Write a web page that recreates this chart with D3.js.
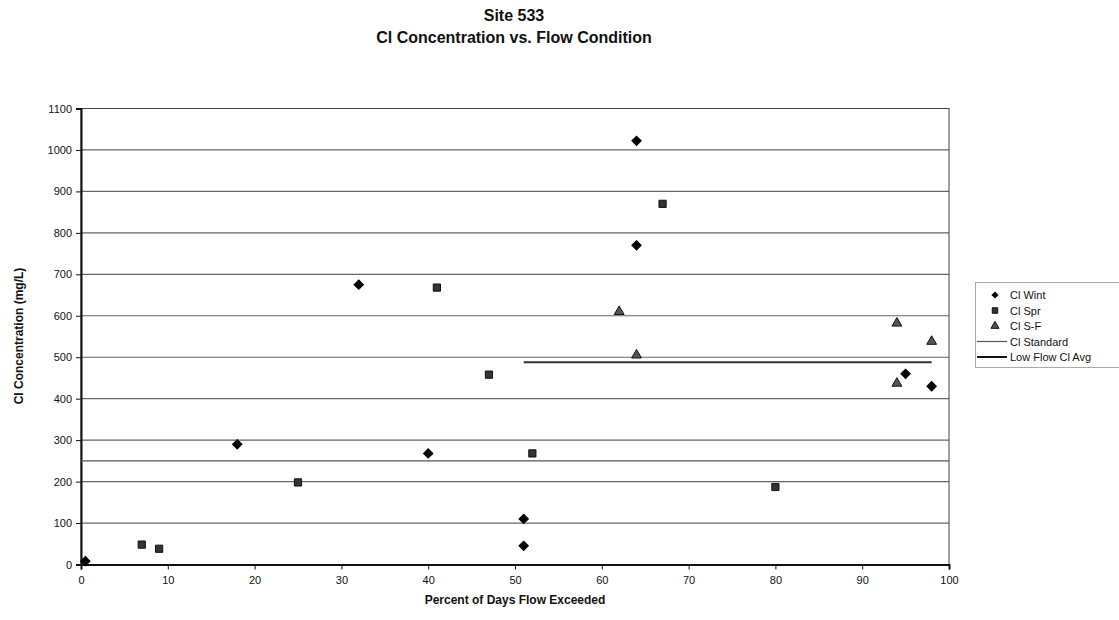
<!DOCTYPE html>
<html>
<head>
<meta charset="utf-8">
<script src="https://cdn.jsdelivr.net/npm/d3@7"></script>
<style>
  body { margin: 0; background: #fff; }
  text { font-family: "Liberation Sans", Arial, sans-serif; fill: #111; }
</style>
</head>
<body>
<svg id="chart" width="1119" height="620"></svg>
<script>
// values
const wintX = [0.5, 18, 32, 40, 51, 51, 64, 64, 95, 98]
const wintY = [8, 290, 675, 268, 110, 45, 1022, 770, 460, 430]
const sprX = [7, 9, 25, 41, 47, 52, 67, 80]
const sprY = [48, 38, 198, 668, 458, 268, 870, 187]
const sfX = [62, 64, 94, 94, 98]
const sfY = [610, 505, 582, 437, 538]
const standardX = [0, 100]
const standardY = [250, 250]
const lowFlowX = [51, 98]
const lowFlowY = [488, 488]
const xTicks = [0, 10, 20, 30, 40, 50, 60, 70, 80, 90, 100]
const yTicks = [0, 100, 200, 300, 400, 500, 600, 700, 800, 900, 1000, 1100]
const legendNames = ['Cl Wint', 'Cl Spr', 'Cl S-F', 'Cl Standard', 'Low Flow Cl Avg']

const svg = d3.select('#chart')
const margin = { left: 81, right: 949, top: 108.5, bottom: 564.5 }

const x = d3.scaleLinear().domain([0, 100]).range([margin.left, margin.right])
const y = d3.scaleLinear().domain([0, 1100]).range([margin.bottom, margin.top])

const zip = (xs, ys) => xs.map((v, i) => ({ x: v, y: ys[i] }))

// titles
svg.append('text').attr('x', 514).attr('y', 21).attr('text-anchor', 'middle')
  .style('font-weight', 'bold').style('font-size', '16px').text('Site 533')
svg.append('text').attr('x', 514).attr('y', 43).attr('text-anchor', 'middle')
  .style('font-weight', 'bold').style('font-size', '16px').text('Cl Concentration vs. Flow Condition')

// gridlines
svg.append('g').selectAll('line').data(yTicks.filter(d => d > 0)).join('line')
  .attr('x1', x(0)).attr('x2', x(100))
  .attr('y1', d => y(d)).attr('y2', d => y(d))
  .attr('stroke', '#666').attr('stroke-width', 1.2)

// plot border
svg.append('rect').attr('x', x(0)).attr('y', y(1100))
  .attr('width', x(100) - x(0)).attr('height', y(0) - y(1100))
  .attr('fill', 'none').attr('stroke', '#444').attr('stroke-width', 1)

// axes
const yAxis = d3.axisLeft(y).tickValues(yTicks).tickFormat(d3.format('d')).tickSize(5).tickPadding(4)
const xAxis = d3.axisBottom(x).tickValues(xTicks).tickFormat(d3.format('d')).tickSize(5).tickPadding(7)
const gy = svg.append('g').attr('transform', `translate(${x(0)},0)`).call(yAxis)
const gx = svg.append('g').attr('transform', `translate(0,${y(0)})`).call(xAxis)
for (const g of [gx, gy]) {
  g.selectAll('text').style('font-size', '11px').style('font-family', '"Liberation Sans", Arial, sans-serif')
  g.selectAll('line').attr('stroke', '#111')
  g.select('.domain').attr('stroke', '#111').attr('stroke-width', 2)
}

svg.append('text').attr('x', 515).attr('y', 604).attr('text-anchor', 'middle')
  .style('font-weight', 'bold').style('font-size', '12px').text('Percent of Days Flow Exceeded')
svg.append('text').attr('transform', 'translate(23,336) rotate(-90)').attr('text-anchor', 'middle')
  .style('font-weight', 'bold').style('font-size', '12px').text('Cl Concentration (mg/L)')

// reference lines
const line = d3.line().x(d => x(d.x)).y(d => y(d.y))
svg.append('path').datum(zip(standardX, standardY)).attr('d', line)
  .attr('stroke', '#555').attr('stroke-width', 1.2).attr('fill', 'none')
svg.append('path').datum(zip(lowFlowX, lowFlowY)).attr('d', line)
  .attr('stroke', '#333').attr('stroke-width', 2).attr('fill', 'none')

// markers
const diamond = d3.symbol().type(d3.symbolSquare).size(44)
const square = d3.symbol().type(d3.symbolSquare).size(52)
const triangle = d3.symbol().type(d3.symbolTriangle).size(42)

function drawMarks (data, sym, fill, stroke, rot = 0) {
  svg.append('g').selectAll('path').data(data).join('path')
    .attr('transform', d => `translate(${x(d.x)},${y(d.y)}) rotate(${rot})`)
    .attr('d', sym).attr('fill', fill).attr('stroke', stroke).attr('stroke-width', 1)
}
drawMarks(zip(wintX, wintY), diamond, '#000', '#000', 45)
drawMarks(zip(sprX, sprY), square, '#333', '#111')
drawMarks(zip(sfX, sfY), triangle, '#555', '#111')

// legend
const lg = svg.append('g')
lg.append('rect').attr('x', 975.5).attr('y', 282.5).attr('width', 150).attr('height', 85)
  .attr('fill', '#fff').attr('stroke', '#555').attr('stroke-dasharray', '1,1')
const rowY = i => 295 + i * 15.5
lg.selectAll('text').data(legendNames).join('text')
  .attr('x', 1010).attr('y', (d, i) => rowY(i) + 4)
  .style('font-size', '11px').text(d => d)
lg.append('path').attr('transform', `translate(995,${rowY(0)}) rotate(45)`)
  .attr('d', d3.symbol().type(d3.symbolSquare).size(26)).attr('fill', '#000')
lg.append('path').attr('transform', `translate(995,${rowY(1)})`)
  .attr('d', d3.symbol().type(d3.symbolSquare).size(30)).attr('fill', '#333').attr('stroke', '#111')
lg.append('path').attr('transform', `translate(995,${rowY(2)})`)
  .attr('d', d3.symbol().type(d3.symbolTriangle).size(28)).attr('fill', '#555').attr('stroke', '#111')
lg.append('line').attr('x1', 977).attr('x2', 1007).attr('y1', rowY(3)).attr('y2', rowY(3))
  .attr('stroke', '#555').attr('stroke-width', 1.2)
lg.append('line').attr('x1', 977).attr('x2', 1007).attr('y1', rowY(4)).attr('y2', rowY(4))
  .attr('stroke', '#111').attr('stroke-width', 2)
</script>
</body>
</html>
